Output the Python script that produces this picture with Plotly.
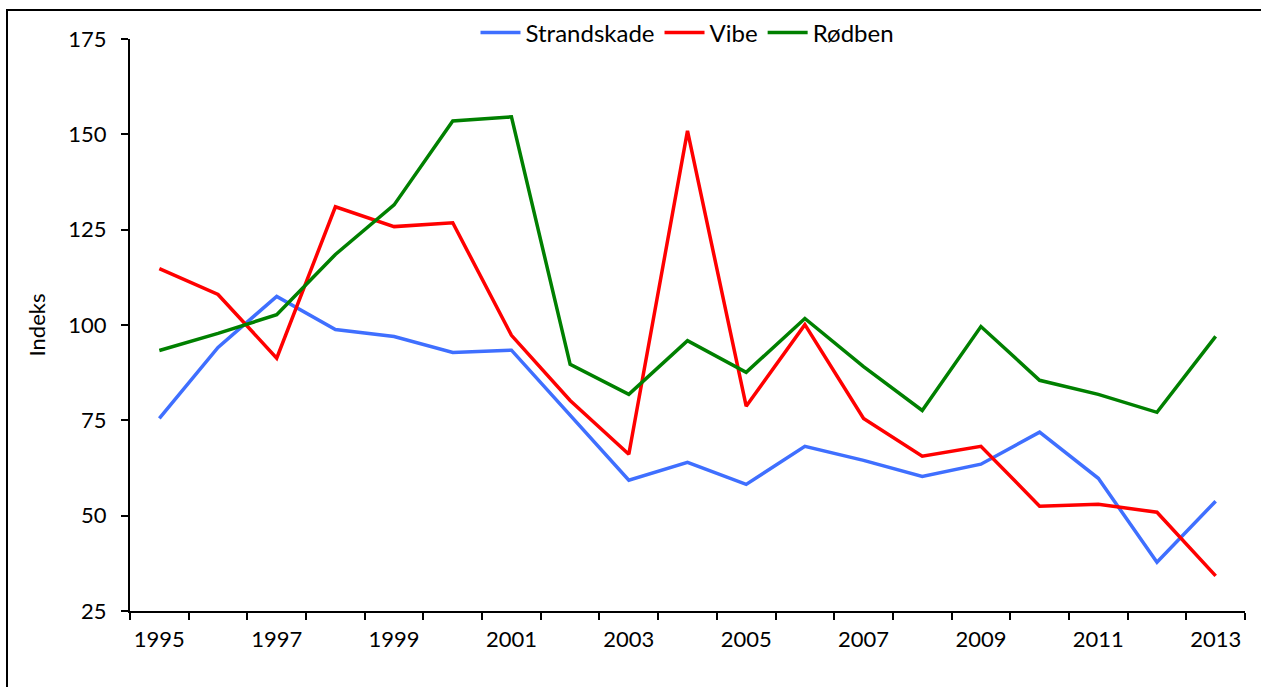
import plotly.graph_objects as go

years = list(range(1995, 2014))
strandskade = [75.5, 94.1, 107.5, 98.8, 97.0, 92.8, 93.4, 76.3, 59.3, 64.0, 58.2, 68.2, 64.5, 60.3, 63.5, 71.9, 59.8, 37.8, 53.8]
vibe = [114.8, 108.0, 91.3, 131.0, 125.8, 126.8, 97.3, 80.2, 66.1, 150.9, 78.7, 100.1, 75.5, 65.6, 68.2, 52.5, 53.0, 50.9, 34.2]
rodben = [93.3, 97.8, 102.7, 118.5, 131.5, 153.5, 154.6, 89.7, 81.8, 95.9, 87.6, 101.7, 89.1, 77.6, 99.6, 85.5, 81.8, 77.1, 97.0]
x_labels = [str(y) for y in range(1995, 2014, 2)]
y_ticks = [25, 50, 75, 100, 125, 150, 175]

FONT = "Lato"
FS = 22
fig = go.Figure()
for name, vals, col in [("Strandskade", strandskade, "#3F6FFF"),
                        ("Vibe", vibe, "#FF0000"),
                        ("Rødben", rodben, "#008000")]:
    fig.add_trace(go.Scatter(x=years, y=vals, name=name, mode="lines",
                             line=dict(color=col, width=3.5)))

W, H = 1261, 687
L, R, T, B = 130, 16, 38, 76
pw, ph = W - L - R, H - T - B

fig.update_layout(
    width=W, height=H,
    margin=dict(l=L, r=R, t=T, b=B),
    plot_bgcolor="white", paper_bgcolor="white",
    font=dict(family=FONT, size=FS, color="black"),
    showlegend=True,
    legend=dict(orientation="h", x=0.5, xanchor="center", y=(H - 33 - B) / ph, yanchor="middle",
                bgcolor="rgba(0,0,0,0)", font=dict(size=24, family=FONT), itemwidth=40,
                tracegroupgap=0),
    xaxis=dict(range=[1994.5, 2013.5], tickmode="array",
               tickvals=[int(v) for v in x_labels], ticktext=x_labels,
               ticks="", showgrid=False, zeroline=False,
               showline=True, linecolor="black", linewidth=2,
               ticklabelstandoff=8,
               minor=dict(tickmode="array", tickvals=[y + 0.5 for y in range(1994, 2014)],
                          ticks="outside", ticklen=7, tickwidth=2, tickcolor="black", showgrid=False),
               tickfont=dict(size=FS, family=FONT)),
    yaxis=dict(range=[25, 175], tickmode="array", tickvals=y_ticks,
               ticks="outside", ticklen=7, tickwidth=2, tickcolor="black",
               showgrid=False, zeroline=False, showline=True, linecolor="black", linewidth=2,
               ticklabelstandoff=10,
               title=dict(text="Indeks", font=dict(size=FS, family=FONT), standoff=17),
               tickfont=dict(size=FS, family=FONT)),
)

# outer chart border (cropped on right and bottom in the reference)
fig.add_shape(type="rect", xref="paper", yref="paper",
              x0=(7 - L) / pw, x1=(W + 20 - L) / pw,
              y0=(H - B - (H + 20)) / ph, y1=(H - B - 9) / ph,
              line=dict(color="black", width=2), fillcolor="rgba(0,0,0,0)", layer="below")

fig.write_html("out.html", config={"displayModeBar": False},
               post_script="document.body.style.margin='0';")
